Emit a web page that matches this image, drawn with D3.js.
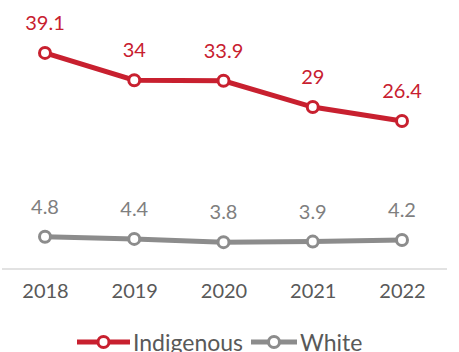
<!DOCTYPE html>
<html>
<head>
<meta charset="utf-8">
<script src="https://cdn.jsdelivr.net/npm/d3@7"></script>
<style>
  html, body { margin: 0; padding: 0; background: #fff; }
  svg { display: block; font-family: Lato, "Open Sans", sans-serif; }
</style>
</head>
<body>
<div class="chart"></div>
<script>
const years = ["2018", "2019", "2020", "2021", "2022"];
const indigenous = [39.1, 34, 33.9, 29, 26.4];
const white = [4.8, 4.4, 3.8, 3.9, 4.2];

const width = 459, height = 352;
const red = "#c8202f", grey = "#8c8c8c";

const series = [
  { name: "Indigenous", values: indigenous, color: red, labelColor: red },
  { name: "White", values: white, color: grey, labelColor: "#7f7f7f" }
];

const svg = d3.select(".chart").append("svg")
  .attr("width", width)
  .attr("height", height);

const x = d3.scalePoint().domain(years).range([45, 402]);
const y = d3.scaleLinear().domain([0, 40]).range([262.5, 48.1]);

// baseline / axis
svg.append("line")
  .attr("x1", 2).attr("x2", 447)
  .attr("y1", 269).attr("y2", 269)
  .attr("stroke", "#d9d9d9")
  .attr("stroke-width", 1.5);

const xAxis = svg.append("g")
  .attr("transform", "translate(0,269)")
  .call(d3.axisBottom(x).tickSize(0).tickPadding(10));
xAxis.select(".domain").remove();
xAxis.selectAll("text")
  .attr("font-size", "20px")
  .attr("font-family", "Lato, sans-serif")
  .attr("fill", "#595959")
  .attr("dy", "0.95em");

const line = d3.line()
  .x((d, i) => x(years[i]))
  .y(d => y(d));

series.forEach(s => {
  svg.append("path")
    .datum(s.values)
    .attr("fill", "none")
    .attr("stroke", s.color)
    .attr("stroke-width", 5)
    .attr("d", line);

  svg.selectAll(null).data(s.values).enter().append("circle")
    .attr("cx", (d, i) => x(years[i]))
    .attr("cy", d => y(d))
    .attr("r", 5.5)
    .attr("fill", "#fff")
    .attr("stroke", s.color)
    .attr("stroke-width", 3);

  svg.selectAll(null).data(s.values).enter().append("text")
    .attr("x", (d, i) => x(years[i]))
    .attr("y", d => y(d) - 23)
    .attr("text-anchor", "middle")
    .attr("font-size", "20px")
    .attr("fill", s.labelColor)
    .text(d => d);
});

// legend
const legendItems = [
  { lx: 77, lw: 53, s: series[0] },
  { lx: 251, lw: 46, s: series[1] }
];
legendItems.forEach(item => {
  const g = svg.append("g");
  g.append("line")
    .attr("x1", item.lx).attr("x2", item.lx + item.lw)
    .attr("y1", 342).attr("y2", 342)
    .attr("stroke", item.s.color)
    .attr("stroke-width", 5);
  g.append("circle")
    .attr("cx", item.lx + item.lw / 2)
    .attr("cy", 342)
    .attr("r", 5.5)
    .attr("fill", "#fff")
    .attr("stroke", item.s.color)
    .attr("stroke-width", 3);
  g.append("text")
    .attr("x", item.lx + item.lw + 3)
    .attr("y", 351)
    .attr("font-size", "23px")
    .attr("fill", "#595959")
    .text(item.s.name);
});
</script>
</body>
</html>
